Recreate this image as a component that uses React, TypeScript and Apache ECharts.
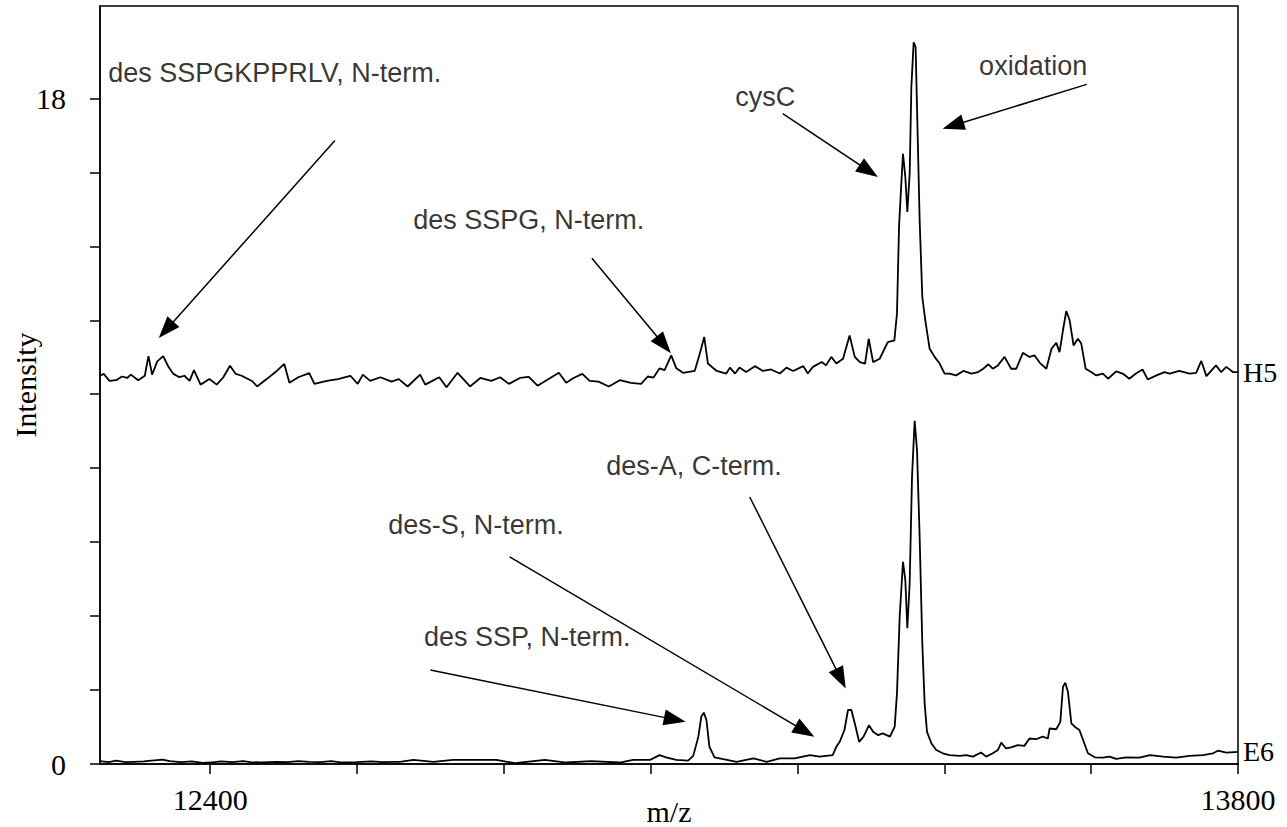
import React, { useEffect, useRef } from "react";
import * as echarts from "echarts";

// ---- axis ticks / labels ----
const xTickValues = [12400, 12600, 12800, 13000, 13200, 13400, 13600, 13800];
const xLabelValues = [12400, 13800];
const yTickValues = [0, 2, 4, 6, 8, 10, 12, 14, 16, 18];
const yLabelValues = [0, 18];

// ---- spectra: [m/z, intensity] ----
const h5Spectrum: [number, number][] = [
  [12250, 10.5], [12255, 10.55], [12263, 10.36], [12272, 10.38], [12280, 10.48], [12287, 10.44], [12292, 10.53],
  [12302, 10.38], [12311, 10.5], [12316, 11.03], [12321, 10.53], [12328, 10.89], [12336, 11.03], [12343, 10.75],
  [12350, 10.55], [12358, 10.46], [12365, 10.5], [12372, 10.36], [12378, 10.65], [12387, 10.26], [12399, 10.41],
  [12409, 10.26], [12418, 10.46], [12427, 10.77], [12435, 10.55], [12443, 10.5], [12457, 10.36], [12464, 10.21],
  [12477, 10.41], [12489, 10.6], [12501, 10.82], [12508, 10.31], [12520, 10.46], [12535, 10.57], [12542, 10.28],
  [12559, 10.36], [12574, 10.41], [12591, 10.5], [12601, 10.28], [12608, 10.53], [12618, 10.36], [12632, 10.46],
  [12647, 10.34], [12657, 10.41], [12669, 10.21], [12686, 10.53], [12693, 10.26], [12712, 10.46], [12722, 10.19],
  [12737, 10.58], [12754, 10.21], [12768, 10.44], [12783, 10.36], [12795, 10.46], [12807, 10.28], [12822, 10.44],
  [12834, 10.47], [12846, 10.23], [12861, 10.41], [12875, 10.58], [12885, 10.31], [12895, 10.44], [12907, 10.55],
  [12917, 10.36], [12929, 10.34], [12943, 10.21], [12958, 10.38], [12973, 10.31], [12987, 10.28], [12996, 10.48],
  [13004, 10.45], [13012, 10.7], [13019, 10.65], [13028, 11.05], [13035, 10.7], [13044, 10.58], [13060, 10.63],
  [13067, 11.1], [13073, 11.55], [13078, 10.83], [13090, 10.63], [13103, 10.56], [13108, 10.72], [13115, 10.56],
  [13121, 10.72], [13130, 10.6], [13142, 10.76], [13153, 10.63], [13164, 10.67], [13176, 10.56], [13185, 10.72],
  [13194, 10.63], [13208, 10.76], [13214, 10.56], [13221, 10.74], [13233, 10.87], [13239, 10.78], [13246, 11.01],
  [13253, 10.83], [13262, 10.96], [13271, 11.59], [13278, 11.01], [13285, 10.87], [13292, 10.83], [13297, 11.5],
  [13303, 10.87], [13312, 10.96], [13323, 11.41], [13332, 11.46], [13335.5, 12.18], [13338.3, 14.52],
  [13341.4, 15.69], [13343.7, 16.5], [13346.9, 15.87], [13349.6, 14.93], [13352.8, 15.96], [13355.1, 18.31],
  [13358.2, 19.52], [13360.9, 19.39], [13363.2, 17.41], [13366.4, 14.7], [13370, 12.63], [13374.1, 12.0],
  [13380, 11.23], [13386.8, 11.01], [13393.6, 10.83], [13400.4, 10.56], [13407, 10.56], [13416, 10.51],
  [13426, 10.63], [13437, 10.56], [13446, 10.6], [13453, 10.69], [13460, 10.81], [13466, 10.69], [13473, 10.78],
  [13482, 11.01], [13491, 10.69], [13498, 10.69], [13507, 11.12], [13516, 11.01], [13523, 11.05], [13530, 10.85],
  [13539, 10.69], [13546, 11.23], [13552.5, 11.39], [13557, 11.14], [13561.6, 11.73], [13566.1, 12.25],
  [13570.7, 12.0], [13576, 11.32], [13582, 11.5], [13586.5, 11.37], [13592.5, 10.69], [13600, 10.6], [13607, 10.51],
  [13616, 10.56], [13623, 10.42], [13634, 10.62], [13643, 10.56], [13652, 10.42], [13661, 10.56], [13670, 10.67],
  [13677, 10.4], [13689, 10.51], [13700, 10.6], [13707, 10.56], [13720, 10.63], [13734, 10.56], [13743, 10.58],
  [13750, 10.9], [13757, 10.49], [13770, 10.78], [13777, 10.6], [13784, 10.74], [13793, 10.6], [13800, 10.6],
];

const e6Spectrum: [number, number][] = [
  [12250, 0.08], [12262, 0.05], [12272, 0.09], [12285, 0.05], [12296, 0.06], [12310, 0.07], [12320, 0.09],
  [12335, 0.12], [12345, 0.08], [12360, 0.05], [12375, 0.07], [12390, 0.03], [12400, 0.04], [12415, 0.07],
  [12430, 0.05], [12445, 0.08], [12455, 0.05], [12470, 0.04], [12490, 0.06], [12505, 0.05], [12520, 0.08],
  [12535, 0.06], [12550, 0.05], [12565, 0.08], [12580, 0.04], [12600, 0.05], [12620, 0.07], [12635, 0.05],
  [12650, 0.06], [12658.5, 0.06], [12677, 0.11], [12704, 0.06], [12731, 0.11], [12754, 0.11], [12790, 0.11],
  [12815, 0.02], [12856, 0.11], [12885, 0.04], [12919, 0.08], [12958, 0.04], [12976, 0.11], [12999, 0.11],
  [13006, 0.18], [13012, 0.24], [13021, 0.18], [13035, 0.11], [13051, 0.09], [13058, 0.22], [13065, 0.74],
  [13069, 1.28], [13072.4, 1.39], [13076, 1.19], [13080, 0.47], [13087, 0.18], [13099, 0.13], [13117, 0.06],
  [13140, 0.15], [13158, 0.06], [13176, 0.15], [13196, 0.15], [13217, 0.24], [13230, 0.2], [13248, 0.24],
  [13253, 0.47], [13257.5, 0.6], [13264, 0.92], [13268.8, 1.46], [13273.4, 1.46], [13278, 1.1], [13284, 0.6],
  [13290, 0.74], [13297.4, 1.05], [13303, 0.87], [13310, 0.78], [13316, 0.83], [13326, 0.74], [13332.4, 1.01],
  [13335.5, 1.91], [13339.2, 3.98], [13343.7, 5.47], [13346.9, 4.97], [13349.6, 3.67], [13352.8, 4.88],
  [13356, 7.77], [13359.6, 9.28], [13362.8, 8.49], [13366.4, 6.14], [13370, 3.26], [13373.2, 1.64],
  [13376.4, 0.87], [13382.3, 0.56], [13389, 0.38], [13398, 0.29], [13407, 0.24], [13421, 0.22], [13430, 0.24],
  [13439, 0.2], [13450, 0.31], [13457, 0.2], [13466, 0.29], [13473, 0.38], [13477.6, 0.58], [13484, 0.42],
  [13491, 0.45], [13500, 0.51], [13509, 0.49], [13516, 0.69], [13525, 0.67], [13534, 0.74], [13541, 0.69],
  [13543.4, 0.96], [13552.5, 0.94], [13558, 1.14], [13561.6, 2.09], [13564.8, 2.2], [13568.4, 1.95],
  [13573, 1.1], [13577.5, 1.01], [13584, 0.92], [13589, 0.65], [13595.6, 0.29], [13605, 0.18], [13616, 0.17],
  [13625, 0.2], [13634, 0.14], [13648, 0.18], [13666, 0.17], [13680, 0.24], [13698, 0.2], [13716, 0.17],
  [13734, 0.22], [13752, 0.24], [13766, 0.29], [13772.6, 0.36], [13784, 0.31], [13800, 0.33],
];

// ---- annotations (data coordinates) ----
const annotationTexts = [
  "des SSPGKPPRLV, N-term.",
  "des SSPG, N-term.",
  "cysC",
  "oxidation",
  "des-A, C-term.",
  "des-S, N-term.",
  "des SSP, N-term.",
];
const annotationAt: [number, number][] = [
  [12488, 18.68], [12834, 14.7], [13156, 18.03], [13521, 18.89], [13059, 8.05], [12762, 6.46], [12832, 3.43],
];
const arrowFrom: [number, number][] = [
  [12570, 16.86], [12920, 13.68], [13180, 17.59], [13594, 18.38], [13135, 7.22], [12808, 5.6], [12700, 2.54],
];
const arrowTo: [number, number][] = [
  [12340, 11.74], [13018, 11.34], [13297, 16.04], [13412, 17.27], [13259, 2.31], [13210, 0.89], [13033, 1.2],
];

const SERIF = '"Liberation Serif", "Times New Roman", serif';
const SANS = '"Liberation Sans", Arial, sans-serif';

export default function App() {
  const ref = useRef<HTMLDivElement>(null);
  useEffect(() => {
    document.body.style.margin = "0";
    const chart = echarts.init(ref.current!, null, { renderer: "svg" });
    const lineSeries = (name: string, data: [number, number][]) => ({
      type: "line",
      name,
      data,
      showSymbol: false,
      symbol: "none",
      lineStyle: { color: "#000", width: 1.8 },
      itemStyle: { color: "#000" },
      endLabel: { show: true, formatter: name, fontFamily: SERIF, fontSize: 28, color: "#000", distance: 5 },
      z: 3,
    });
    chart.setOption({
      animation: false,
      backgroundColor: "#fff",
      grid: {
        left: 100, right: 49, top: 6, bottom: 63,
        show: true, borderColor: "#000", borderWidth: 1.5,
        containLabel: false, outerBoundsMode: "none",
      },
      xAxis: {
        type: "value",
        min: 12250,
        max: 13800,
        name: "m/z",
        nameLocation: "middle",
        nameGap: 32,
        nameMoveOverlap: false,
        nameTextStyle: { fontFamily: SERIF, fontSize: 30, color: "#000" },
        axisLine: { show: true, onZero: false, lineStyle: { color: "#000", width: 1.5 } },
        axisTick: { show: true, inside: false, length: 10, customValues: xTickValues, lineStyle: { color: "#000", width: 1.5 } },
        axisLabel: { show: true, customValues: xLabelValues, formatter: (v: number) => String(v), fontFamily: SERIF, fontSize: 30, color: "#000", margin: 20 },
        splitLine: { show: false },
      },
      yAxis: {
        type: "value",
        min: 0,
        max: 20.5,
        name: "Intensity",
        nameLocation: "middle",
        nameGap: 60,
        nameRotate: 90,
        nameMoveOverlap: false,
        nameTextStyle: { fontFamily: SERIF, fontSize: 30, color: "#000" },
        axisLine: { show: true, onZero: false, lineStyle: { color: "#000", width: 1.5 } },
        axisTick: { show: true, inside: false, length: 10, customValues: yTickValues, lineStyle: { color: "#000", width: 1.5 } },
        axisLabel: { show: true, customValues: yLabelValues, formatter: (v: number) => String(v), fontFamily: SERIF, fontSize: 30, color: "#000", margin: 34 },
        splitLine: { show: false },
      },
      series: [
        lineSeries("H5", h5Spectrum),
        lineSeries("E6", e6Spectrum),
        {
          type: "scatter",
          name: "annotations",
          silent: true,
          symbolSize: 1,
          itemStyle: { color: "rgba(0,0,0,0)" },
          data: annotationTexts.map((t, i) => ({ name: t, value: annotationAt[i] })),
          label: { show: true, formatter: "{b}", position: "inside", fontFamily: SANS, fontSize: 27, color: "#000" },
          markLine: {
            silent: true,
            symbol: ["none", "triangle"],
            symbolSize: [16, 22],
            lineStyle: { color: "#000", width: 1.5, type: "solid" },
            label: { show: false },
            emphasis: { disabled: true },
            data: arrowFrom.map((f, i) => [{ coord: f }, { coord: arrowTo[i] }]),
          },
          z: 4,
        },
      ],
    });
    return () => chart.dispose();
  }, []);
  return <div ref={ref} style={{ width: 1287, height: 827 }} />;
}
